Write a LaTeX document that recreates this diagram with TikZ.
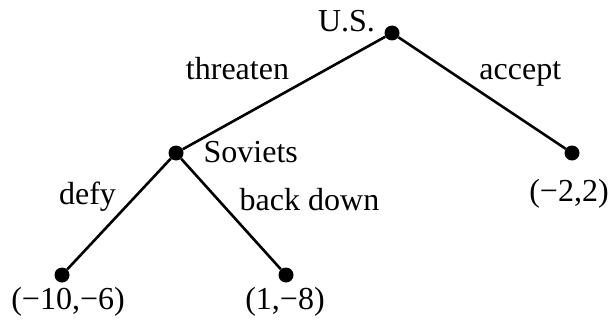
\documentclass[tikz,border=0pt]{standalone}
\usepackage{fontspec}
\setmainfont{Liberation Serif}
\usetikzlibrary{positioning}

\begin{document}
\begin{tikzpicture}[x=1pt,y=1pt,
		dot/.style={circle,fill=black,inner sep=0pt,minimum size=15pt},
		lab/.style={anchor=base,inner sep=0pt,font=\fontsize{32}{36}\selectfont},
		branch/.style={line width=2.6pt}]
				\useasboundingbox (0,0) rectangle (612,322);
				% draw decision points
				\node[dot] (us) at (392,289) {};
				\node[dot] (sov) at (176,169) {};
				\node[dot] (acc) at (572,169) {};
				\node[dot] (defy) at (62,47) {};
				\node[dot] (back) at (286,47) {};
				% draw branches
				\draw[branch] (us) -- (sov);
				\draw[branch] (us) -- (acc);
				\draw[branch] (sov) -- (defy);
				\draw[branch] (sov) -- (back);
				% add labels
				\node[lab] (uslab) at (346.5,290.3) {U.S.};
				\node[lab] (sovlab) at (250.8,159.3) {Soviets};
				\node[lab] (threat) at (237.5,243) {threaten};
				\node[lab] (accept) at (520.3,243) {accept};
				\node[lab] (defylab) at (87.5,118) {defy};
				\node[lab] (backlab) at (309.5,111.3) {back down};
				% add payoffs
				\node[lab] (paccept) at (569,121) {(−2,2)};
				\node[lab] (pdefy) at (68,12.7) {(−10,−6)};
				\node[lab] (pback) at (285,12.7) {(1,−8)};
\end{tikzpicture}
\end{document}
